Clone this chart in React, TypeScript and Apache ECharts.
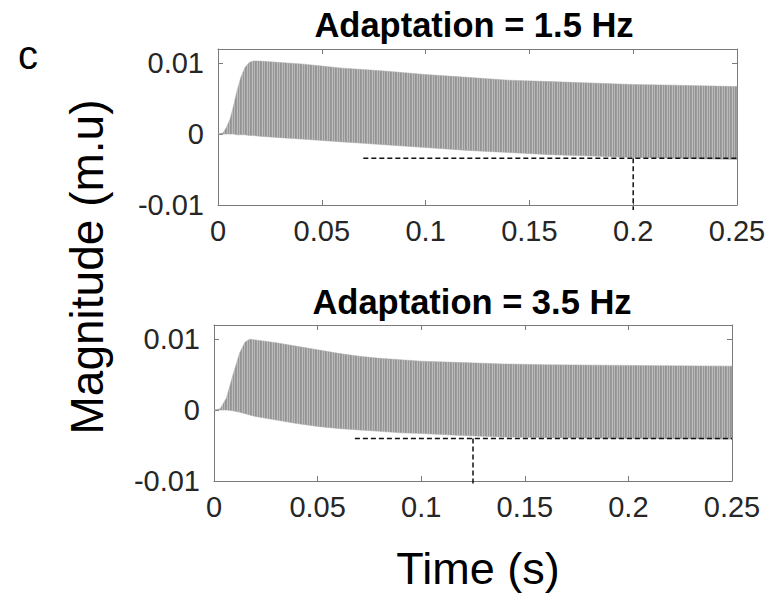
import React, { useEffect, useRef } from "react";
import * as echarts from "echarts";

// ---- Data ----
const xTicks = [0, 0.05, 0.1, 0.15, 0.2, 0.25];
const yTicks = [-0.01, 0, 0.01];

// Top panel (Adaptation = 1.5 Hz): envelope of the oscillating response
const topTime = [0, 0.0025, 0.004, 0.0058, 0.0075, 0.009, 0.011, 0.013, 0.015, 0.017, 0.02, 0.03, 0.04, 0.05, 0.06, 0.07, 0.08, 0.1, 0.12, 0.14, 0.16, 0.18, 0.2, 0.22, 0.25];
const topUpper = [0, 0.0002, 0.0009, 0.0021, 0.004, 0.0059, 0.008, 0.0094, 0.0101, 0.0103, 0.0103, 0.0101, 0.0099, 0.0096, 0.0093, 0.0091, 0.0089, 0.0084, 0.008, 0.0076, 0.0074, 0.0072, 0.007, 0.0069, 0.0067];
const topLower = [0, 0, 0, 0, 0, -0.0001, -0.0001, -0.0001, -0.0002, -0.0002, -0.0003, -0.0005, -0.0007, -0.0009, -0.0011, -0.0013, -0.0015, -0.0019, -0.0023, -0.0026, -0.0029, -0.0031, -0.0033, -0.0034, -0.0036];

// Bottom panel (Adaptation = 3.5 Hz)
const bottomTime = [0, 0.003, 0.006, 0.009, 0.0124, 0.015, 0.0172, 0.02, 0.03, 0.04, 0.05, 0.06, 0.07, 0.08, 0.09, 0.1, 0.12, 0.14, 0.16, 0.2, 0.25];
const bottomUpper = [0, 0.0002, 0.0017, 0.0048, 0.0081, 0.0096, 0.01, 0.0099, 0.0095, 0.009, 0.0085, 0.008, 0.0076, 0.0073, 0.0071, 0.0069, 0.0067, 0.0065, 0.0064, 0.0063, 0.0062];
const bottomLower = [0, 0, 0, -0.0001, -0.0003, -0.0005, -0.0007, -0.0009, -0.0014, -0.0019, -0.0023, -0.0026, -0.0028, -0.003, -0.0032, -0.0033, -0.0036, -0.0038, -0.0039, -0.004, -0.0041];

// Dashed markers: steady-state level, where it starts, and the vertical marker time
const panelTitles = ["Adaptation = 1.5 Hz", "Adaptation = 3.5 Hz"];
const markerLevels = [-0.0034, -0.004];
const markerStarts = [0.07, 0.068];
const markerTimes = [0.2, 0.125];
const markerEnd = 0.25;
const markerBottom = -0.0107;

const FONT = "'Liberation Sans', Arial, Helvetica, sans-serif";
const AXIS_COLOR = "#7a7a7a";
const LABEL_COLOR = "#262626";

const grids = [
  { left: 218, top: 49, width: 519, height: 156 },
  { left: 214, top: 325, width: 518, height: 156 },
];

function isTick(v: number) {
  return Math.abs(v * 100 - Math.round(v * 100)) < 1e-6;
}

function makeStripeFill(): any {
  try {
    const c = document.createElement("canvas");
    c.width = 5;
    c.height = 1;
    const ctx = c.getContext("2d");
    if (!ctx) return "#a4a4a4";
    const cols = ["#939393", "#9c9c9c", "#bcbcbc", "#979797", "#b8b8b8"];
    cols.forEach((col, i) => {
      ctx.fillStyle = col;
      ctx.fillRect(i, 0, 1, 1);
    });
    return { image: c, repeat: "repeat" };
  } catch (e) {
    return "#a4a4a4";
  }
}

export default function App() {
  const ref = useRef<HTMLDivElement>(null);

  useEffect(() => {
    if (!ref.current) return;
    const chart = echarts.init(ref.current, null, { renderer: "svg" });
    const stripeFill = makeStripeFill();

    const xAxes: any[] = [];
    const yAxes: any[] = [];
    const series: any[] = [];
    const panels = [
      { time: topTime, upper: topUpper, lower: topLower },
      { time: bottomTime, upper: bottomUpper, lower: bottomLower },
    ];

    panels.forEach((p, gi) => {
      const base = {
        gridIndex: gi,
        type: "value",
        axisLine: { show: true, onZero: false, lineStyle: { color: AXIS_COLOR, width: 1 } },
        axisTick: { show: true, inside: true, length: 5, lineStyle: { color: AXIS_COLOR } },
        splitLine: { show: false },
      };
      xAxes.push({
        ...base,
        position: "bottom",
        min: xTicks[0],
        max: xTicks[xTicks.length - 1],
        interval: 0.05,
        axisLabel: {
          show: true,
          margin: 11,
          fontSize: 29,
          color: LABEL_COLOR,
          fontFamily: FONT,
          formatter: (v: number) => String(Number(v.toFixed(3))),
        },
      });
      xAxes.push({
        ...base,
        position: "top",
        min: xTicks[0],
        max: xTicks[xTicks.length - 1],
        interval: 0.05,
        axisLabel: { show: false },
      });
      yAxes.push({
        ...base,
        position: "left",
        min: yTicks[0],
        max: 0.012,
        interval: 0.01,
        axisLabel: {
          show: true,
          margin: 14,
          fontSize: 29,
          color: LABEL_COLOR,
          fontFamily: FONT,
          showMaxLabel: false,
          formatter: (v: number) => (isTick(v) ? String(Number(v.toFixed(3))) : ""),
        },
      });
      yAxes.push({
        ...base,
        position: "right",
        min: yTicks[0],
        max: 0.012,
        interval: 0.01,
        axisLabel: { show: false },
      });

      const data = p.time.map((t, i) => [t, p.upper[i], p.lower[i]]);
      series.push({
        type: "custom",
        xAxisIndex: gi * 2,
        yAxisIndex: gi * 2,
        data,
        encode: { x: 0, y: [1, 2] },
        silent: true,
        renderItem: (params: any, api: any) => {
          if (params.dataIndex !== 0) return null;
          const pts: number[][] = [];
          for (let i = 0; i < p.time.length; i++) pts.push(api.coord([p.time[i], p.upper[i]]));
          for (let i = p.time.length - 1; i >= 0; i--) pts.push(api.coord([p.time[i], p.lower[i]]));
          return {
            type: "polygon",
            shape: { points: pts },
            style: { fill: stripeFill, stroke: "#a8a8a8", lineWidth: 0.5 },
          };
        },
      });

      const dash = { color: "#111", width: 1.5, type: [5, 3] };
      series.push({
        type: "line",
        xAxisIndex: gi * 2,
        yAxisIndex: gi * 2,
        data: [
          [markerStarts[gi], markerLevels[gi]],
          [markerEnd, markerLevels[gi]],
        ],
        symbol: "none",
        silent: true,
        clip: false,
        lineStyle: dash,
      });
      series.push({
        type: "line",
        xAxisIndex: gi * 2,
        yAxisIndex: gi * 2,
        data: [
          [markerTimes[gi], markerLevels[gi]],
          [markerTimes[gi], markerBottom],
        ],
        symbol: "none",
        silent: true,
        clip: false,
        lineStyle: dash,
      });
    });

    const text = (x: number, y: number, t: string, size: number, weight: string, rotation = 0) => ({
      type: "text",
      x,
      y,
      rotation,
      style: {
        text: t,
        fontSize: size,
        fontWeight: weight,
        fontFamily: FONT,
        fill: "#000",
        align: "center",
        verticalAlign: "middle",
      },
    });

    chart.setOption({
      animation: false,
      backgroundColor: "#ffffff",
      grid: grids.map((g) => ({ ...g, containLabel: false })),
      xAxis: xAxes,
      yAxis: yAxes,
      series,
      graphic: [
        text(474, 25, panelTitles[0], 34.5, "bold"),
        text(472, 302, panelTitles[1], 34.5, "bold"),
        text(87, 267, "Magnitude (m.u)", 46, "normal", Math.PI / 2),
        text(478, 568, "Time (s)", 45, "normal"),
        text(28, 55, "c", 40, "normal"),
      ],
    });

    return () => chart.dispose();
  }, []);

  return (
    <div
      ref={ref}
      style={{ position: "fixed", left: 0, top: 0, width: 776, height: 601, background: "#fff" }}
    />
  );
}
